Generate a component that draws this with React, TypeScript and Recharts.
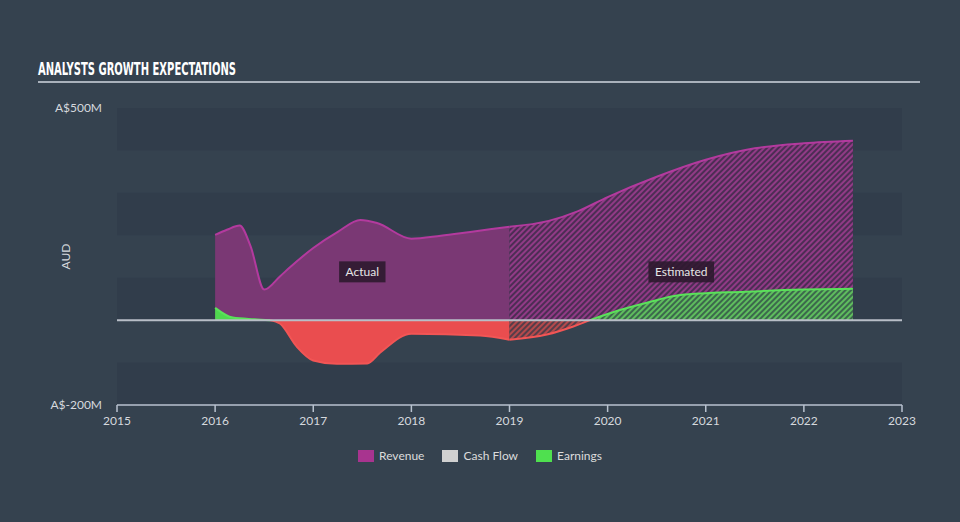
import React from 'react';
import {
  AreaChart, Area, XAxis, YAxis, ReferenceArea, ReferenceLine, ReferenceDot, Legend,
} from 'recharts';

// ---- data ----
const xTicks = [2015, 2016, 2017, 2018, 2019, 2020, 2021, 2022, 2023];
const yTicks = [-200, 500];
const bandsDark: [number, number][] = [[400, 500], [200, 300], [0, 100], [-200, -100]];

const revenueActualYears = [2016, 2016.12, 2016.25, 2016.36, 2016.5, 2016.66, 2016.76, 2017, 2017.25, 2017.48, 2017.65, 2018, 2018.3, 2018.6, 2019];
const revenueActualValues = [201, 213, 223, 175, 72, 103, 124, 170, 208, 236, 229, 192, 199, 208, 220];

const revenueEstYears = [2019, 2019.4, 2019.7, 2020, 2020.5, 2021, 2021.5, 2022, 2022.5];
const revenueEstValues = [220, 234, 257, 290, 338, 378, 405, 417, 423];

const earningsActualYears = [2016, 2016.18, 2016.4, 2016.56, 2016.66, 2016.83, 2017, 2017.24, 2017.55, 2017.68, 2018, 2018.7, 2019];
const earningsActualValues = [29, 6, 2, 0, -8, -62, -95, -103, -102, -77, -32, -36, -46];

const earningsEstYears = [2019, 2019.38, 2019.65, 2019.82, 2020.1, 2020.4, 2020.74, 2021.4, 2022, 2022.5];
const earningsEstValues = [-46, -34, -15, 0, 22, 41, 59, 67, 72, 74];

const legendItems = [
  { name: 'Revenue', color: '#a8348f' },
  { name: 'Cash Flow', color: '#d0d0d0' },
  { name: 'Earnings', color: '#4fe04f' },
];

const periodLabels = [
  { text: 'Actual', x: 2017.5, y: 115 },
  { text: 'Estimated', x: 2020.75, y: 115 },
];

const toPts = (xs: number[], vs: number[]) => xs.map((x, i) => ({ x, v: vs[i] }));
const revAct = toPts(revenueActualYears, revenueActualValues);
const revEst = toPts(revenueEstYears, revenueEstValues);
const earnAct = toPts(earningsActualYears, earningsActualValues);
const earnEst = toPts(earningsEstYears, earningsEstValues);
const earnActPos = earnAct.filter((p) => p.v >= 0);
const earnActNeg = earnAct.filter((p) => p.v <= 0);
const earnEstPos = earnEst.filter((p) => p.v >= 0);
const earnEstNeg = earnEst.filter((p) => p.v <= 0);

const FONT = 'Lato, "Open Sans", sans-serif';
const BG = '#35424f';

const LabelBox = (props: any) => {
  const { cx, cy, text } = props;
  const w = text.length * 6.4 + 8;
  return (
    <g>
      <rect x={cx - w / 2} y={cy - 10} width={w} height={21} fill="#2e1a2f" fillOpacity={0.9} />
      <text x={cx} y={cy + 4.5} textAnchor="middle" fill="#e6e6e6" fontSize={12} fontFamily={FONT}>{text}</text>
    </g>
  );
};

const LegendContent = () => (
  <div style={{ display: 'flex', justifyContent: 'center', fontFamily: FONT, fontSize: 12, color: '#dcdcdc' }}>
    {legendItems.map((it) => (
      <div key={it.name} style={{ display: 'flex', alignItems: 'center', margin: '0 9px' }}>
        <div style={{ width: 16, height: 12, background: it.color, marginRight: 5 }} />
        <span>{it.name}</span>
      </div>
    ))}
  </div>
);

export default function App() {
  return (
    <div style={{ position: 'absolute', left: 0, top: 0, width: 960, height: 522, background: BG, overflow: 'hidden' }}>
      <svg width={960} height={90} style={{ position: 'absolute', left: 0, top: 0 }}>
        <text x={38} y={75} fill="#ffffff" fontSize={18} fontWeight="bold" fontFamily='"Liberation Sans Narrow", "DejaVu Sans Condensed", sans-serif' textLength={198} lengthAdjust="spacingAndGlyphs">
          ANALYSTS GROWTH EXPECTATIONS
        </text>
        <rect x={38} y={81} width={882} height={2} fill="#a9b1bb" />
      </svg>
      <div style={{ position: 'absolute', left: 0, top: 0 }}>
        <AreaChart width={960} height={522} margin={{ top: 108, right: 58, bottom: 87, left: 57 }}>
          <defs>
            <pattern id="hatchRev" patternUnits="userSpaceOnUse" width={4} height={4} patternTransform="rotate(45)">
              <rect x={0} y={0} width={4} height={4} fill="#4f2b55" />
              <rect x={0} y={0} width={2} height={4} fill="#9b3a8c" />
            </pattern>
            <pattern id="hatchGreen" patternUnits="userSpaceOnUse" width={4} height={4} patternTransform="rotate(45)">
              <rect x={0} y={0} width={4} height={4} fill="#3b6b4c" />
              <rect x={0} y={0} width={2} height={4} fill="#5cc45c" />
            </pattern>
            <pattern id="hatchRed" patternUnits="userSpaceOnUse" width={4} height={4} patternTransform="rotate(45)">
              <rect x={0} y={0} width={4} height={4} fill="#5a3d48" />
              <rect x={0} y={0} width={2} height={4} fill="#c24a4c" />
            </pattern>
          </defs>
          {bandsDark.map(([a, b]) => (
            <ReferenceArea key={a} y1={a} y2={b} x1={2015} x2={2023} fill="#2c3846" fillOpacity={0.45} stroke="none" ifOverflow="visible" />
          ))}
          <XAxis
            dataKey="x" type="number" domain={[2015, 2023]} ticks={xTicks} allowDataOverflow
            axisLine={{ stroke: '#b8c2cf', strokeWidth: 1.5 }} tickLine={{ stroke: '#b8c2cf', strokeWidth: 1.5 }}
            tickSize={7} tickMargin={4} height={30}
            tick={{ fill: '#d5d9de', fontSize: 12, fontFamily: FONT }}
          />
          <YAxis
            type="number" domain={[-200, 500]} ticks={yTicks} width={60}
            axisLine={false} tickLine={false} tickSize={0} tickMargin={15}
            tickFormatter={(v: number) => `A$${v}M`}
            tick={{ fill: '#d5d9de', fontSize: 12, fontFamily: FONT }}
            label={{
              content: (p: any) => (
                <text x={p.viewBox.x + 8} y={p.viewBox.y + p.viewBox.height / 2} transform={`rotate(-90 ${p.viewBox.x + 8} ${p.viewBox.y + p.viewBox.height / 2})`} textAnchor="middle" dominantBaseline="central" fill="#d5d9de" fontSize={12} fontFamily={FONT}>AUD</text>
              ),
            }}
          />
          <ReferenceLine y={0} stroke="#b8bec7" strokeWidth={2} ifOverflow="visible" />
          <Area data={revAct} dataKey="v" type="monotone" baseValue={0} fill="#7a3874" fillOpacity={1} stroke="#b33a9e" strokeWidth={2} isAnimationActive={false} dot={false} activeDot={false} />
          <Area data={revEst} dataKey="v" type="monotone" baseValue={0} fill="url(#hatchRev)" fillOpacity={0.9} stroke="#b33a9e" strokeWidth={2} isAnimationActive={false} dot={false} activeDot={false} />
          <Area data={earnActPos} dataKey="v" type="monotone" baseValue={0} fill="#4fd84f" fillOpacity={1} stroke="#5ae25a" strokeWidth={2} isAnimationActive={false} dot={false} activeDot={false} />
          <Area data={earnActNeg} dataKey="v" type="monotone" baseValue={0} fill="#ea4d4f" fillOpacity={1} stroke="#f25555" strokeWidth={2} isAnimationActive={false} dot={false} activeDot={false} />
          <Area data={earnEstNeg} dataKey="v" type="monotone" baseValue={0} fill="url(#hatchRed)" fillOpacity={0.9} stroke="#f25555" strokeWidth={2} isAnimationActive={false} dot={false} activeDot={false} />
          <Area data={earnEstPos} dataKey="v" type="monotone" baseValue={0} fill="url(#hatchGreen)" fillOpacity={0.95} stroke="#5ae25a" strokeWidth={2} isAnimationActive={false} dot={false} activeDot={false} />
          {periodLabels.map((l) => (
            <ReferenceDot key={l.text} x={l.x} y={l.y} r={0} ifOverflow="visible" shape={(p: any) => <LabelBox {...p} text={l.text} />} />
          ))}
          <Legend layout="horizontal" verticalAlign="middle" align="center" content={LegendContent} wrapperStyle={{ position: 'absolute', top: 448, left: 0, width: 960 }} />
        </AreaChart>
      </div>
    </div>
  );
}
